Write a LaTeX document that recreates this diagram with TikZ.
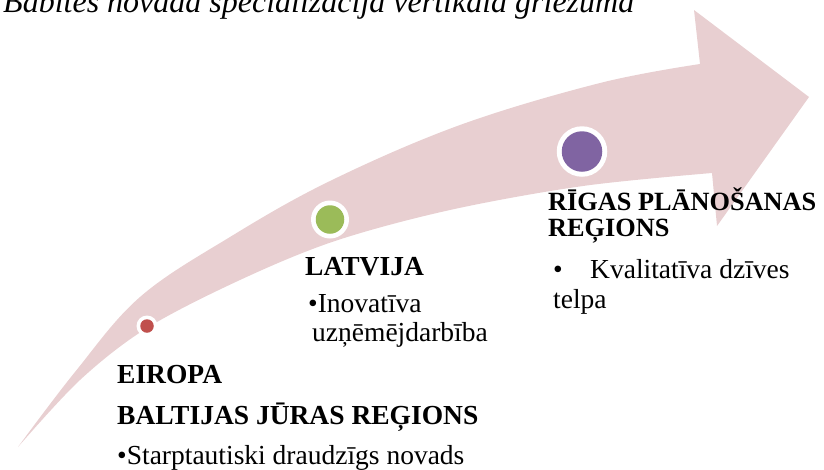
\documentclass[tikz,border=0pt]{standalone}
\usepackage{fontspec}
\setmainfont{Liberation Serif}
\definecolor{arrowpink}{HTML}{E8CFD1}
\definecolor{dotred}{HTML}{C0504D}
\definecolor{dotgreen}{HTML}{9BBB59}
\definecolor{dotpurple}{HTML}{8064A2}
\tikzset{
  txt/.style={anchor=base west, inner sep=0pt, font=\fontsize{27.5}{30}\selectfont},
  head/.style={txt, font=\fontsize{27.5}{30}\selectfont\bfseries},
  ring/.style={circle, fill=white, inner sep=0pt},
  dot/.style={circle, inner sep=0pt},
}
\begin{document}
\begin{tikzpicture}[x=1pt, y=-1pt]
\useasboundingbox (0,0) rectangle (824,469);
\begin{scope}
\clip (0,0) rectangle (824,469);
% title (cut off at the top)
\node[txt, font=\fontsize{32}{34}\selectfont\itshape] (title) at (3,12) {Babītes novada specializācija vertikālā griezumā};
% curved arrow
\fill[arrowpink] (18,447)
  -- plot[smooth, tension=0.6] coordinates {(18,447) (75,372) (140,297) (230,237) (330,181) (460,125) (600,83) (700,64)}
  -- (694,10) -- (809,97) -- (717,226) -- (712,173)
  -- plot[smooth, tension=0.55] coordinates {(712,173) (583,186) (450,210) (335,241) (240,280) (147,328) (80,380) (18,447)}
  -- cycle;
\end{scope}
% dots
\node[ring, minimum size=21pt] (r1) at (147,326) {};
\node[dot, fill=dotred, minimum size=13.5pt] (d1) at (r1) {};
\node[ring, minimum size=38pt] (r2) at (330,219.5) {};
\node[dot, fill=dotgreen, minimum size=28.5pt] (d2) at (r2) {};
\node[ring, minimum size=50.5pt] (r3) at (582,151.5) {};
\node[dot, fill=dotpurple, minimum size=40.5pt] (d3) at (r3) {};
% texts
\node[head] (eu) at (117,383) {EIROPA};
\node[head] (bjr) at (117,424) {BALTIJAS JŪRAS REĢIONS};
\node[txt] (eut) at (117,464) {•Starptautiski draudzīgs novads};
\node[head] (lv) at (305,275) {LATVIJA};
\node[txt] (lvt1) at (308,312) {•Inovatīva};
\node[txt] (lvt2) at (312,341) {uzņēmējdarbība};
\node[head, font=\fontsize{26.3}{28}\selectfont\bfseries] (rpr1) at (548,210) {RĪGAS PLĀNOŠANAS};
\node[head, font=\fontsize{26.3}{28}\selectfont\bfseries] (rpr2) at (548,236) {REĢIONS};
\node[txt] (rb) at (553,278) {•};
\node[txt] (rpt1) at (590,278) {Kvalitatīva dzīves};
\node[txt] (rpt2) at (553,308) {telpa};
\end{tikzpicture}
\end{document}
